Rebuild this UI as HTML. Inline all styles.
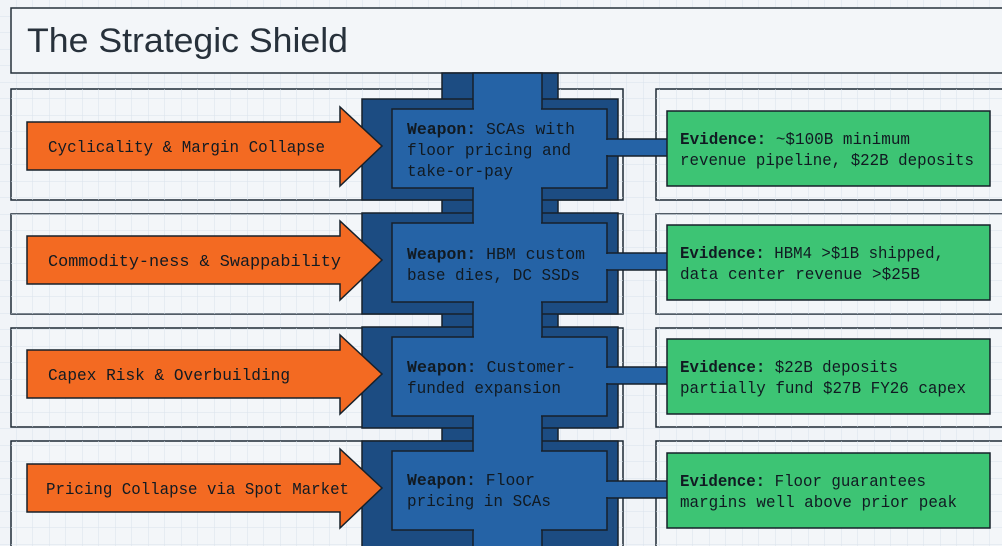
<!DOCTYPE html>
<html><head><meta charset="utf-8"><style>
html,body{margin:0;padding:0;background:#f1f4f8;}
svg{display:block}
.m{font-family:"Liberation Mono",monospace;font-size:17px;fill:#111a22;}
.b{font-weight:bold}
</style></head><body>
<svg width="1002" height="546" viewBox="0 0 1002 546" xmlns="http://www.w3.org/2000/svg">
<defs>
<pattern id="g" width="16.5" height="16.5" patternUnits="userSpaceOnUse">
<path d="M16.5 0V16.5M0 16.5H16.5" stroke="#d9e2ec" stroke-width="1" fill="none"/>
</pattern>
</defs>
<rect width="1002" height="546" fill="#f1f4f8"/>
<rect width="1002" height="546" fill="url(#g)"/>
<rect x="11" y="8" width="1000" height="65" fill="#f3f6f9" stroke="#26313b" stroke-width="1.5"/>
<text x="27" y="52" font-family="Liberation Sans, sans-serif" font-size="34" fill="#27313b" textLength="321" lengthAdjust="spacingAndGlyphs">The Strategic Shield</text>

<g stroke="#1e2a35" stroke-width="1.5">
<rect x="11" y="89" width="612" height="111" fill="#f3f6f9"/>
<rect x="656" y="89" width="360" height="111" fill="#f3f6f9"/>
<rect x="11" y="214" width="612" height="100" fill="#f3f6f9"/>
<rect x="656" y="214" width="360" height="100" fill="#f3f6f9"/>
<rect x="11" y="328" width="612" height="99" fill="#f3f6f9"/>
<rect x="656" y="328" width="360" height="99" fill="#f3f6f9"/>
<rect x="11" y="441" width="612" height="120" fill="#f3f6f9"/>
<rect x="656" y="441" width="360" height="120" fill="#f3f6f9"/>
</g>
<rect x="11" y="89" width="612" height="111" fill="url(#g)"/>
<rect x="656" y="89" width="360" height="111" fill="url(#g)"/>
<rect x="11" y="214" width="612" height="100" fill="url(#g)"/>
<rect x="656" y="214" width="360" height="100" fill="url(#g)"/>
<rect x="11" y="328" width="612" height="99" fill="url(#g)"/>
<rect x="656" y="328" width="360" height="99" fill="url(#g)"/>
<rect x="11" y="441" width="612" height="120" fill="url(#g)"/>
<rect x="656" y="441" width="360" height="120" fill="url(#g)"/>

<g stroke="#16202a" stroke-width="1.5">
<rect x="442" y="73" width="116" height="480" fill="#1c4c82"/>
<rect x="362" y="99" width="256" height="101" fill="#1c4c82"/>
<rect x="362" y="213" width="256" height="101" fill="#1c4c82"/>
<rect x="362" y="327" width="256" height="101" fill="#1c4c82"/>
<rect x="362" y="441" width="256" height="110" fill="#1c4c82"/>
<rect x="473" y="73" width="69" height="480" fill="#2563a6"/>
<rect x="392" y="109" width="215" height="79" fill="#2563a6"/>
<rect x="392" y="223" width="215" height="79" fill="#2563a6"/>
<rect x="392" y="337" width="215" height="79" fill="#2563a6"/>
<rect x="392" y="451" width="215" height="79" fill="#2563a6"/>
<rect x="607" y="139" width="61" height="17" fill="#2563a6"/>
<rect x="607" y="253" width="61" height="17" fill="#2563a6"/>
<rect x="607" y="367" width="61" height="17" fill="#2563a6"/>
<rect x="607" y="481" width="61" height="17" fill="#2563a6"/>
</g>
<g fill="#2563a6">
<rect x="474" y="108" width="67" height="81"/>
<rect x="474" y="222" width="67" height="81"/>
<rect x="474" y="336" width="67" height="81"/>
<rect x="474" y="450" width="67" height="81"/>
<rect x="605" y="140" width="4" height="15"/>
<rect x="605" y="254" width="4" height="15"/>
<rect x="605" y="368" width="4" height="15"/>
<rect x="605" y="482" width="4" height="15"/>
</g>

<g fill="#3dc474" stroke="#16202a" stroke-width="1.5">
<rect x="667" y="111" width="323" height="75"/>
<rect x="667" y="225" width="323" height="75"/>
<rect x="667" y="339" width="323" height="75"/>
<rect x="667" y="453" width="323" height="75"/>
</g>

<g fill="#f36a22" stroke="#16202a" stroke-width="1.5">
<path d="M27 122H340V107L382 146L340 186V170H27Z"/>
<path d="M27 236H340V221L382 260L340 300V284H27Z"/>
<path d="M27 350H340V335L382 374L340 414V398H27Z"/>
<path d="M27 464H340V449L382 488L340 528V512H27Z"/>
</g>

<g class="m">
<text x="48" y="152" textLength="277" lengthAdjust="spacingAndGlyphs">Cyclicality &amp; Margin Collapse</text>
<text x="48" y="266" textLength="293" lengthAdjust="spacingAndGlyphs">Commodity-ness &amp; Swappability</text>
<text x="48" y="380" textLength="242" lengthAdjust="spacingAndGlyphs">Capex Risk &amp; Overbuilding</text>
<text x="46" y="494" textLength="303" lengthAdjust="spacingAndGlyphs">Pricing Collapse via Spot Market</text>

<text x="407" y="134" textLength="168" lengthAdjust="spacingAndGlyphs"><tspan class="b">Weapon:</tspan> SCAs with</text>
<text x="407" y="155" textLength="164" lengthAdjust="spacingAndGlyphs">floor pricing and</text>
<text x="407" y="176" textLength="106" lengthAdjust="spacingAndGlyphs">take-or-pay</text>
<text x="407" y="259" textLength="178" lengthAdjust="spacingAndGlyphs"><tspan class="b">Weapon:</tspan> HBM custom</text>
<text x="407" y="280" textLength="173" lengthAdjust="spacingAndGlyphs">base dies, DC SSDs</text>
<text x="407" y="372" textLength="169" lengthAdjust="spacingAndGlyphs"><tspan class="b">Weapon:</tspan> Customer-</text>
<text x="407" y="393" textLength="154" lengthAdjust="spacingAndGlyphs">funded expansion</text>
<text x="407" y="485" textLength="128" lengthAdjust="spacingAndGlyphs"><tspan class="b">Weapon:</tspan> Floor</text>
<text x="407" y="506" textLength="144" lengthAdjust="spacingAndGlyphs">pricing in SCAs</text>

<text x="680" y="144" textLength="230" lengthAdjust="spacingAndGlyphs"><tspan class="b">Evidence:</tspan> ~$100B minimum</text>
<text x="680" y="165" textLength="294" lengthAdjust="spacingAndGlyphs">revenue pipeline, $22B deposits</text>
<text x="680" y="258" textLength="264" lengthAdjust="spacingAndGlyphs"><tspan class="b">Evidence:</tspan> HBM4 &gt;$1B shipped,</text>
<text x="680" y="279" textLength="240" lengthAdjust="spacingAndGlyphs">data center revenue &gt;$25B</text>
<text x="680" y="372" textLength="218" lengthAdjust="spacingAndGlyphs"><tspan class="b">Evidence:</tspan> $22B deposits</text>
<text x="680" y="393" textLength="286" lengthAdjust="spacingAndGlyphs">partially fund $27B FY26 capex</text>
<text x="680" y="486" textLength="246" lengthAdjust="spacingAndGlyphs"><tspan class="b">Evidence:</tspan> Floor guarantees</text>
<text x="680" y="507" textLength="277" lengthAdjust="spacingAndGlyphs">margins well above prior peak</text>
</g>
</svg>
</body></html>
